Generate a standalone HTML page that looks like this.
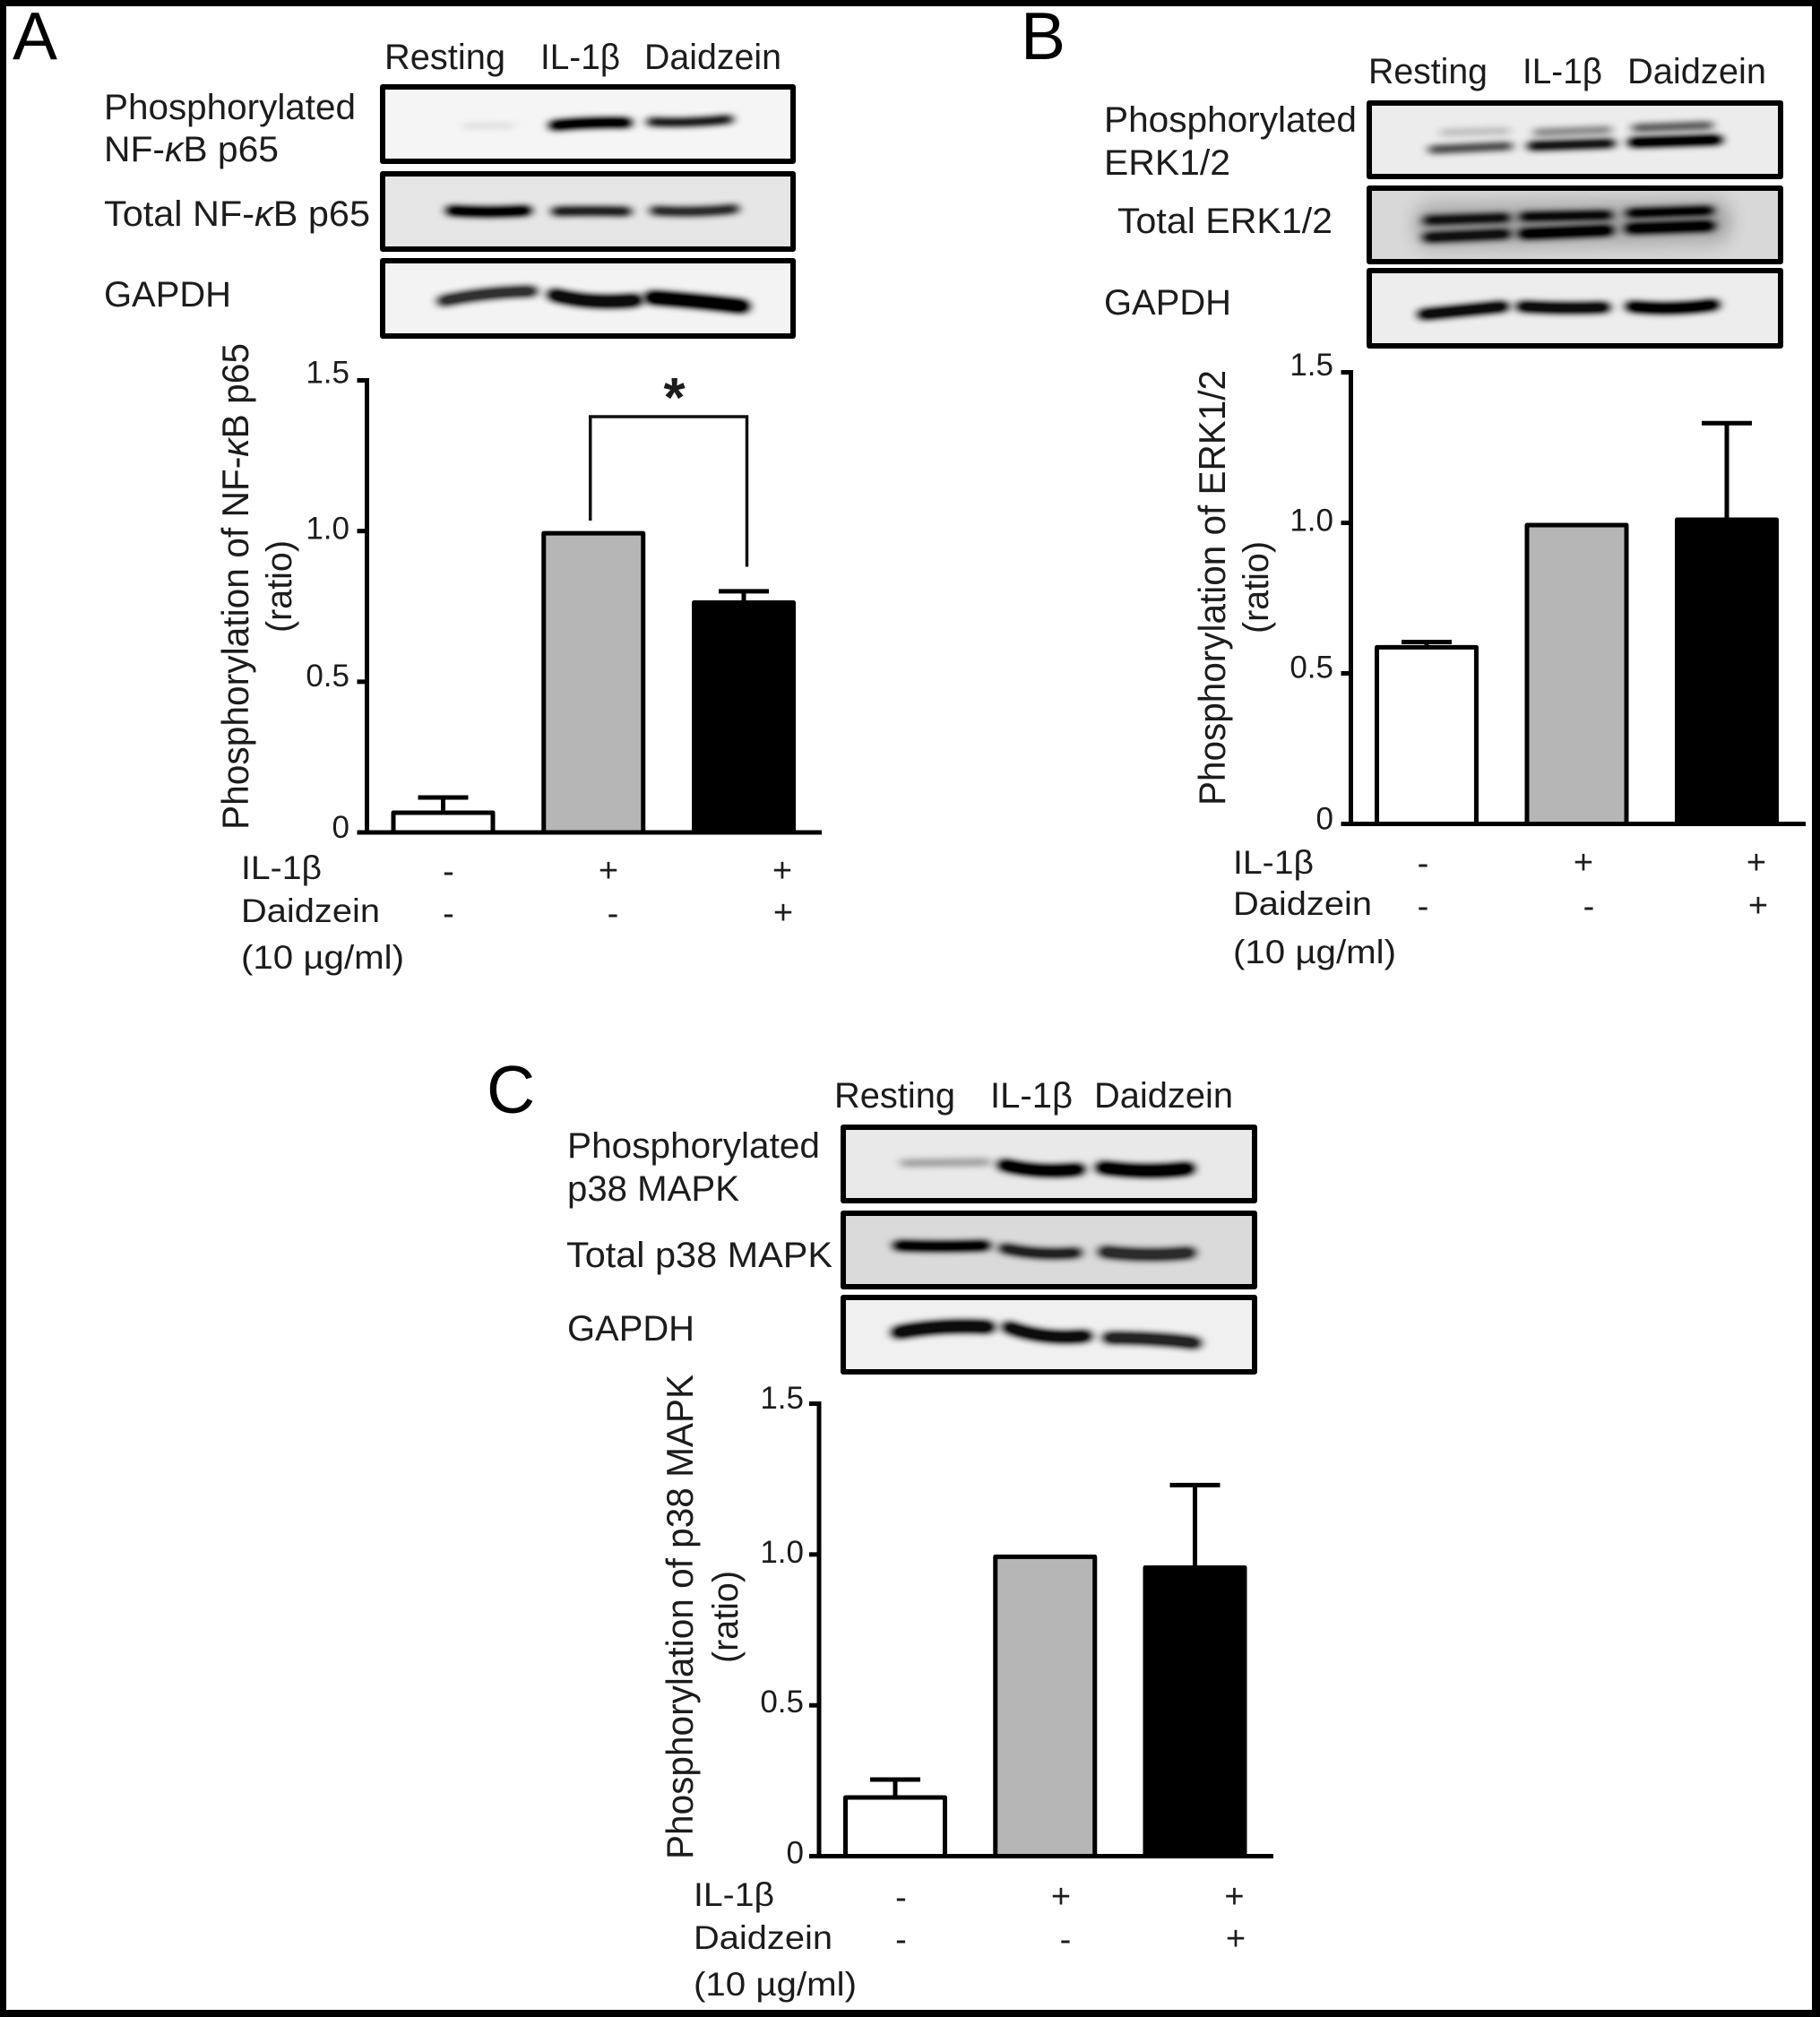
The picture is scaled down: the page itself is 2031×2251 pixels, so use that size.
<!DOCTYPE html>
<html lang="en">
<head>
<meta charset="utf-8">
<title>Phosphorylation western blots and bar charts</title>
<style>
html,body{margin:0;padding:0;background:#fff;}
svg{display:block;font-family:"Liberation Sans",sans-serif;}
text{fill:#1c1c1c;}
.lane{font-size:40px;}
.rowlab{font-size:40px;}
.cond{font-size:37px;}
.ytitle{font-size:42px;}
.ratio{font-size:40px;}
.letter{font-size:75px;fill:#000;}
.box{stroke:#000;stroke-width:6;stroke-linejoin:round;}
.band{fill:none;stroke:#000;stroke-linecap:round;filter:url(#blur);}
</style>
</head>
<body>
<svg id="fig" xmlns="http://www.w3.org/2000/svg" width="2031" height="2251" viewBox="0 0 2031 2251">
<defs>
<filter id="blur" filterUnits="userSpaceOnUse" x="0" y="0" width="2031" height="2251"><feGaussianBlur stdDeviation="5.5 3.6"/><feComponentTransfer><feFuncA type="linear" slope="1.35"/></feComponentTransfer></filter>
<filter id="haze" filterUnits="userSpaceOnUse" x="0" y="0" width="2031" height="2251"><feGaussianBlur stdDeviation="9 12"/></filter>
</defs>
<rect x="0" y="0" width="2031" height="2251" fill="#000"/>
<rect x="7" y="7" width="2015" height="2236" fill="#fff"/>

<!-- Panel A -->
<g>
<text class="letter" x="14" y="66" textLength="50" lengthAdjust="spacingAndGlyphs">A</text>
<text class="lane" x="429" y="77" textLength="135" lengthAdjust="spacingAndGlyphs">Resting</text>
<text class="lane" x="603" y="77" textLength="89" lengthAdjust="spacingAndGlyphs">IL-1β</text>
<text class="lane" x="719" y="77" textLength="153" lengthAdjust="spacingAndGlyphs">Daidzein</text>
<text class="rowlab" x="116" y="133" textLength="281" lengthAdjust="spacingAndGlyphs">Phosphorylated</text>
<text class="rowlab" x="116" y="180" textLength="195" lengthAdjust="spacingAndGlyphs">NF-<tspan font-style="italic">κ</tspan>B p65</text>
<text class="rowlab" x="116" y="252" textLength="297" lengthAdjust="spacingAndGlyphs">Total NF-<tspan font-style="italic">κ</tspan>B p65</text>
<text class="rowlab" x="116" y="342" textLength="142" lengthAdjust="spacingAndGlyphs">GAPDH</text>
<rect class="box" x="427" y="97" width="458" height="83" fill="#f5f5f5"/>
<rect class="box" x="427" y="194" width="458" height="84" fill="#e6e6e6"/>
<rect class="box" x="427" y="291" width="458" height="84" fill="#f3f3f3"/>
<path class="band" d="M518 141 L572 140" stroke-width="6" opacity="0.08"/>
<path class="band" d="M618 140 Q660 136 700 137" stroke-width="10" opacity="1"/>
<path class="band" d="M726 136 Q770 138 814 133" stroke-width="8" opacity="0.9"/>
<path class="band" d="M503 235 Q545 238 588 235" stroke-width="10" opacity="1"/>
<path class="band" d="M620 236 Q660 235 700 236" stroke-width="9" opacity="0.85"/>
<path class="band" d="M730 235 Q775 238 820 233" stroke-width="9" opacity="0.8"/>
<path class="band" d="M494 336 Q540 326 594 325" stroke-width="11" opacity="0.8"/>
<path class="band" d="M618 329 Q660 340 710 335" stroke-width="13" opacity="0.95"/>
<path class="band" d="M727 332 Q780 336 829 342" stroke-width="14" opacity="1"/>
</g>

<!-- Panel B -->
<g>
<text class="letter" x="1139" y="66">B</text>
<text class="lane" x="1527" y="93" textLength="133" lengthAdjust="spacingAndGlyphs">Resting</text>
<text class="lane" x="1699" y="93" textLength="89" lengthAdjust="spacingAndGlyphs">IL-1β</text>
<text class="lane" x="1816" y="93" textLength="155" lengthAdjust="spacingAndGlyphs">Daidzein</text>
<text class="rowlab" x="1232" y="147" textLength="282" lengthAdjust="spacingAndGlyphs">Phosphorylated</text>
<text class="rowlab" x="1232" y="195" textLength="141" lengthAdjust="spacingAndGlyphs">ERK1/2</text>
<text class="rowlab" x="1247" y="260" textLength="240" lengthAdjust="spacingAndGlyphs">Total ERK1/2</text>
<text class="rowlab" x="1232" y="351" textLength="142" lengthAdjust="spacingAndGlyphs">GAPDH</text>
<rect class="box" x="1528" y="115" width="459" height="82" fill="#ececec"/>
<rect class="box" x="1528" y="210" width="459" height="82" fill="#d8d8d8"/>
<rect class="box" x="1528" y="302" width="459" height="84" fill="#ededed"/>
<path class="band" d="M1600 252 L1910 247" stroke-width="46" opacity="0.25" style="filter:url(#haze)"/>
<path class="band" d="M1610 148 L1682 146" stroke-width="7" opacity="0.18"/>
<path class="band" d="M1715 148 L1795 145" stroke-width="8" opacity="0.38"/>
<path class="band" d="M1825 143 L1908 140" stroke-width="8" opacity="0.58"/>
<path class="band" d="M1598 167 L1684 163" stroke-width="8" opacity="0.65"/>
<path class="band" d="M1709 163 L1798 160" stroke-width="9" opacity="0.9"/>
<path class="band" d="M1822 159 L1917 156" stroke-width="10" opacity="1"/>
<path class="band" d="M1593 246 L1681 243" stroke-width="9" opacity="0.9"/>
<path class="band" d="M1700 242 L1795 240" stroke-width="9" opacity="0.95"/>
<path class="band" d="M1819 238 L1908 235" stroke-width="9" opacity="1"/>
<path class="band" d="M1593 265 L1681 261" stroke-width="10" opacity="0.9"/>
<path class="band" d="M1700 261 L1795 257" stroke-width="11" opacity="1"/>
<path class="band" d="M1819 255 L1908 252" stroke-width="11" opacity="1"/>
<path class="band" d="M1588 351 Q1640 346 1678 342" stroke-width="11" opacity="0.95"/>
<path class="band" d="M1698 342 Q1745 345 1791 343" stroke-width="11" opacity="0.95"/>
<path class="band" d="M1820 342 Q1865 347 1913 340" stroke-width="11" opacity="1"/>
</g>

<!-- Panel C -->
<g>
<text class="letter" x="543" y="1242">C</text>
<text class="lane" x="931" y="1236" textLength="135" lengthAdjust="spacingAndGlyphs">Resting</text>
<text class="lane" x="1105" y="1236" textLength="92" lengthAdjust="spacingAndGlyphs">IL-1β</text>
<text class="lane" x="1221" y="1236" textLength="155" lengthAdjust="spacingAndGlyphs">Daidzein</text>
<text class="rowlab" x="633" y="1292" textLength="282" lengthAdjust="spacingAndGlyphs">Phosphorylated</text>
<text class="rowlab" x="633" y="1340" textLength="192" lengthAdjust="spacingAndGlyphs">p38 MAPK</text>
<text class="rowlab" x="632" y="1414" textLength="297" lengthAdjust="spacingAndGlyphs">Total p38 MAPK</text>
<text class="rowlab" x="633" y="1496" textLength="142" lengthAdjust="spacingAndGlyphs">GAPDH</text>
<rect class="box" x="941" y="1258" width="459" height="82" fill="#e9e9e9"/>
<rect class="box" x="941" y="1354" width="459" height="82" fill="#dadada"/>
<rect class="box" x="941" y="1448" width="459" height="83" fill="#f0f0f0"/>
<path class="band" d="M1008 1298 L1102 1297" stroke-width="7" opacity="0.3"/>
<path class="band" d="M1120 1300 Q1160 1310 1204 1305" stroke-width="12" opacity="1"/>
<path class="band" d="M1230 1303 Q1280 1310 1326 1304" stroke-width="13" opacity="1"/>
<path class="band" d="M1002 1390 Q1050 1392 1100 1390" stroke-width="10" opacity="1"/>
<path class="band" d="M1120 1393 Q1160 1402 1202 1398" stroke-width="10" opacity="0.85"/>
<path class="band" d="M1232 1397 Q1280 1403 1328 1398" stroke-width="12" opacity="0.8"/>
<path class="band" d="M1002 1487 Q1050 1478 1103 1481" stroke-width="13" opacity="0.95"/>
<path class="band" d="M1125 1481 Q1165 1496 1212 1491" stroke-width="12" opacity="0.95"/>
<path class="band" d="M1237 1493 Q1290 1493 1334 1499" stroke-width="12" opacity="0.85"/>
</g>

<g id="charts"></g>
</svg>

<script>
/* Shared labels */
const groupNames = ['Resting', 'IL-1beta', 'Daidzein'];
const yTicks = [0, 0.5, 1.0, 1.5];
const yTickLabels = ['0', '0.5', '1.0', '1.5'];
const il1bSigns = ['-', '+', '+'];
const daidzeinSigns = ['-', '-', '+'];

/* Panel A: phosphorylation of NF-kB p65 */
const meansA = [0.073, 1.0, 0.77];
const errorsA = [0.043, 0, 0.03];

/* Panel B: phosphorylation of ERK1/2 */
const meansB = [0.594, 1.0, 1.018];
const errorsB = [0.01, 0, 0.313];

/* Panel C: phosphorylation of p38 MAPK */
const meansC = [0.202, 1.0, 0.964];
const errorsC = [0.052, 0, 0.266];

const SVGNS = 'http://www.w3.org/2000/svg';
const root = document.getElementById('charts');
const barFills = ['#ffffff', '#b6b6b6', '#000000'];

function add(parent, tag, attrs) {
  const el = document.createElementNS(SVGNS, tag);
  for (const k in attrs) el.setAttribute(k, attrs[k]);
  parent.appendChild(el);
  return el;
}

function drawChart(cfg, means, errors) {
  const g = add(root, 'g', {});
  
  

  const yScale = function (v) { return cfg.base - v * (cfg.base - cfg.top) / 1.5; };
  const xLeft = function (i) { return cfg.x0 + i * cfg.step; };
  const barW = 116;

  /* bars and error bars */
  means.forEach(function (m, i) {
    const cx = xLeft(i) + barW / 2;
    if (errors[i] > 0) {
      const yErr = yScale(m + errors[i]);
      const stem = add(g, 'line', { x1: cx, x2: cx, y1: yErr, y2: yScale(m), stroke: '#000', 'stroke-width': 5 });
      
      
      const cap = add(g, 'line', { x1: cx - 28, x2: cx + 28, y1: yErr, y2: yErr, stroke: '#000', 'stroke-width': 5 });
      
      
    }
    const y = yScale(m) + 2.5;
    const bar = add(g, 'rect', {
      x: xLeft(i) + 2.5, y: y, width: barW - 5, height: cfg.base - y,
      fill: barFills[i], stroke: '#000', 'stroke-width': 5, 'stroke-linejoin': 'round'
    });
    
    
  });

  /* axes */
  const yAxis = add(g, 'line', { x1: cfg.axisX, x2: cfg.axisX, y1: cfg.top - 2.5, y2: cfg.base, stroke: '#000', 'stroke-width': 5 });
  
  
  const xAxis = add(g, 'line', { x1: cfg.axisX - 11, x2: cfg.xEnd, y1: cfg.base, y2: cfg.base, stroke: '#000', 'stroke-width': 5 });
  
  

  yTicks.forEach(function (t, i) {
    const y = yScale(t);
    const tick = add(g, 'line', { x1: cfg.axisX - 11, x2: cfg.axisX, y1: y, y2: y, stroke: '#000', 'stroke-width': 5 });
    
    
    const lab = add(g, 'text', { x: cfg.tickRight, y: y + cfg.tickDy[i], 'text-anchor': 'end', 'font-size': 35 });
    lab.textContent = yTickLabels[i];
    
    
  });

  /* plus / minus rows */
  il1bSigns.forEach(function (s, i) {
    const mark = add(g, 'text', { x: cfg.row1X[i], y: cfg.row1Y + (s === '+' ? 9 : 10), 'text-anchor': 'middle', 'font-size': 38 });
    mark.textContent = s;
    
    
  });
  daidzeinSigns.forEach(function (s, i) {
    const mark = add(g, 'text', { x: cfg.row2X[i], y: cfg.row2Y + (s === '+' ? 9 : 10), 'text-anchor': 'middle', 'font-size': 38 });
    mark.textContent = s;
    
    
  });

  /* y axis title, two lines rotated */
  const t1 = add(g, 'text', {
    class: 'ytitle', x: cfg.titleX, y: cfg.titleBottom,
    transform: 'rotate(-90 ' + cfg.titleX + ' ' + cfg.titleBottom + ')',
    textLength: cfg.titleLen, lengthAdjust: 'spacingAndGlyphs'
  });
  
  
  t1.appendChild(document.createTextNode(cfg.titleA));
  if (cfg.kappa) {
    const ts = add(t1, 'tspan', { 'font-style': 'italic' });
    ts.textContent = '\u03BA';
    t1.appendChild(document.createTextNode(cfg.titleB));
  }
  const t2 = add(g, 'text', {
    class: 'ratio', x: cfg.ratioX, y: cfg.ratioBottom,
    transform: 'rotate(-90 ' + cfg.ratioX + ' ' + cfg.ratioBottom + ')',
    textLength: 103, lengthAdjust: 'spacingAndGlyphs'
  });
  t2.textContent = '(ratio)';
  
  

  /* row labels under the axis */
  const condLabels = ['IL-1\u03B2', 'Daidzein', '(10 \u00B5g/ml)'];
  const condWidths = [90, 155, 182];
  condLabels.forEach(function (txt, i) {
    const c = add(g, 'text', { class: 'cond', x: cfg.condX, y: cfg.condY[i], textLength: condWidths[i], lengthAdjust: 'spacingAndGlyphs' });
    c.textContent = txt;
    
    
  });
  return { yScale: yScale, xLeft: xLeft, g: g, barW: barW };
}

const chartA = drawChart({
  id: 'a', base: 929, top: 424.5, axisX: 409.5, xEnd: 917, x0: 436.5, step: 167.75,
  tickRight: 390, tickDy: [6, 5, 9, 3],
  row1X: [500.5, 679, 873], row1Y: 975, row2X: [500.5, 684, 874], row2Y: 1022,
  titleX: 277, titleBottom: 926, titleLen: 543, titleA: 'Phosphorylation of NF-', kappa: true, titleB: 'B p65',
  ratioX: 325, ratioBottom: 706,
  condX: 269, condY: [981, 1029, 1081]
}, meansA, errorsA);

drawChart({
  id: 'b', base: 919.5, top: 415.5, axisX: 1507.5, xEnd: 2015, x0: 1534, step: 167.5,
  tickRight: 1488, tickDy: [6, 5, 9, 3.5],
  row1X: [1588, 1767, 1960], row1Y: 966, row2X: [1588, 1773, 1962], row2Y: 1014,
  titleX: 1367, titleBottom: 899, titleLen: 486, titleA: 'Phosphorylation of ERK1/2', kappa: false, titleB: '',
  ratioX: 1415, ratioBottom: 707,
  condX: 1376, condY: [975, 1021, 1075]
}, meansB, errorsB);

drawChart({
  id: 'c', base: 2071.5, top: 1566.5, axisX: 914, xEnd: 1421, x0: 941, step: 167.25,
  tickRight: 897, tickDy: [8, 8, 9, 5.5],
  row1X: [1005.5, 1184, 1377.5], row1Y: 2120, row2X: [1005.5, 1189, 1379], row2Y: 2167,
  titleX: 773, titleBottom: 2075, titleLen: 541, titleA: 'Phosphorylation of p38 MAPK', kappa: false, titleB: '',
  ratioX: 823, ratioBottom: 1856,
  condX: 774, condY: [2127, 2175, 2227]
}, meansC, errorsC);

/* significance bracket on panel A */
const bracket = add(chartA.g, 'path', {
  d: 'M' + (chartA.xLeft(1) + 54.5) + ' 581 V465 H' + (chartA.xLeft(2) + 61.5) + ' V632.5',
  fill: 'none', stroke: '#111', 'stroke-width': 3.5
});


const star = add(chartA.g, 'text', { x: 752.6, y: 465, 'text-anchor': 'middle', 'font-size': 62, 'font-weight': 'bold' });
star.textContent = '*';


</script>
</body>
</html>
